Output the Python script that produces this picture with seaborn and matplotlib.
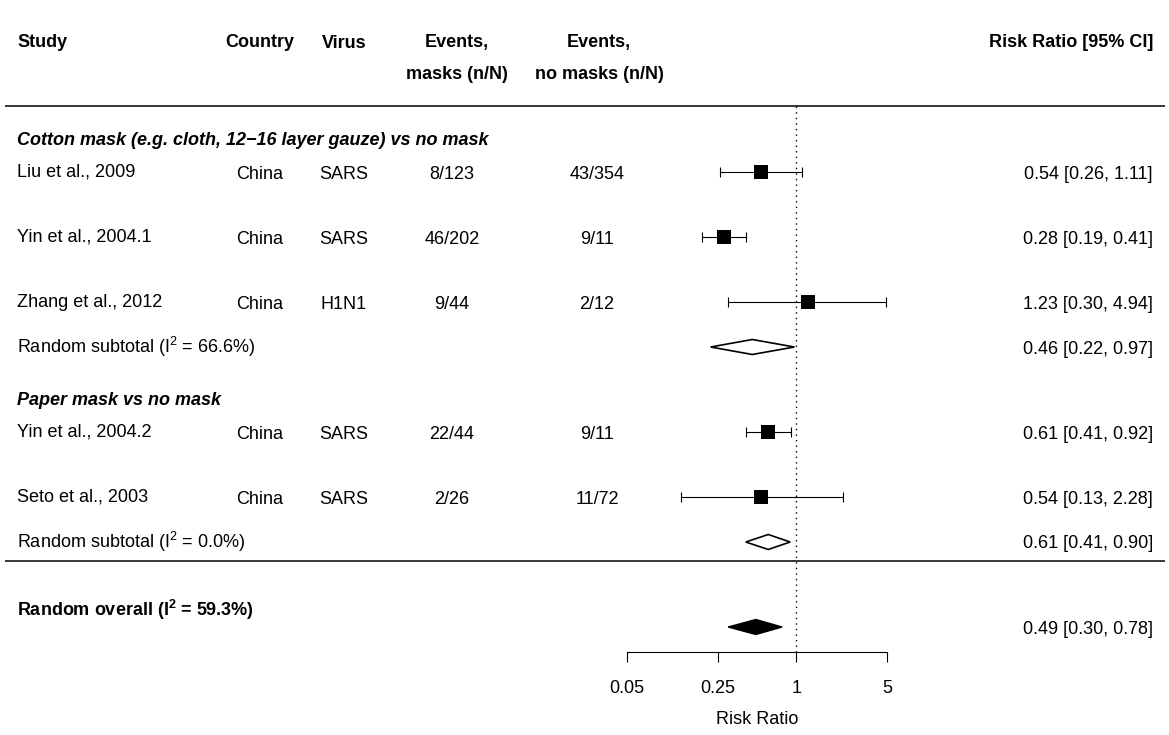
import matplotlib
matplotlib.use("Agg")
import matplotlib.pyplot as plt
import numpy as np
import pandas as pd
import seaborn as sns

# Study level data
studies = ["Liu et al., 2009", "Yin et al., 2004.1", "Zhang et al., 2012",
           "Yin et al., 2004.2", "Seto et al., 2003"]
countries = ["China", "China", "China", "China", "China"]
viruses = ["SARS", "SARS", "H1N1", "SARS", "SARS"]
events_masks = ["8/123", "46/202", "9/44", "22/44", "2/26"]
events_no_masks = ["43/354", "9/11", "2/12", "9/11", "11/72"]
rr = [0.54, 0.28, 1.23, 0.61, 0.54]
ci_low = [0.26, 0.19, 0.30, 0.41, 0.13]
ci_high = [1.11, 0.41, 4.94, 0.92, 2.28]

# Subgroup and overall summaries
group_titles = ["Cotton mask (e.g. cloth, 12\u221216 layer gauze) vs no mask",
                "Paper mask vs no mask"]
subtotal_labels = ["Random subtotal (I$^{2}$ = 66.6%)", "Random subtotal (I$^{2}$ = 0.0%)"]
subtotal_rr = [0.46, 0.61]
subtotal_low = [0.22, 0.41]
subtotal_high = [0.97, 0.90]
overall_label = "Random overall (I$\\mathbf{^{2}}$ = 59.3%)"
overall_rr = 0.49
overall_low = 0.30
overall_high = 0.78

tick_values = [0.05, 0.25, 1, 5]
tick_labels = ["0.05", "0.25", "1", "5"]

# Layout (pixel rows of the figure)
W, H = 1169, 735
study_y = [172, 237, 302, 432, 497]
group_y = [138, 398]
subtotal_y = [347, 542]
overall_y = 627
top_line, mid_line, axis_y = 106, 561, 652
x0_px, x1_px = 627, 887

sns.set_theme(style="white")
plt.rcParams["font.family"] = ["Liberation Sans", "DejaVu Sans"]
plt.rcParams["mathtext.fontset"] = "custom"
plt.rcParams["mathtext.rm"] = "Liberation Sans"
plt.rcParams["mathtext.it"] = "Liberation Sans:italic"
plt.rcParams["mathtext.bf"] = "Liberation Sans:bold"
FS = 13

fig = plt.figure(figsize=(W / 100, H / 100), dpi=100)
tax = fig.add_axes([0, 0, 1, 1])
tax.set_xlim(0, W)
tax.set_ylim(H, 0)
tax.axis("off")


def txt(x, y, s, ha="left", **kw):
    # y is the visual centre of the capitals
    tax.text(x, y + 6.5, s, ha=ha, va="baseline", fontsize=FS, color="black", **kw)


# header
txt(17, 40, "Study", weight="bold")
txt(260, 40, "Country", ha="center", weight="bold")
txt(344, 41, "Virus", ha="center", weight="bold")
txt(457, 40, "Events,", ha="center", weight="bold")
txt(457, 72, "masks (n/N)", ha="center", weight="bold")
txt(599, 40, "Events,", ha="center", weight="bold")
txt(599, 72, "no masks (n/N)", ha="center", weight="bold")
txt(1153, 40, "Risk Ratio [95% CI]", ha="right", weight="bold")

tax.hlines([top_line, mid_line], 5, 1165, color="black", lw=1.1)

for gy, title in zip(group_y, group_titles):
    txt(17, gy, title, weight="bold", style="italic")

for i, y in enumerate(study_y):
    txt(17, y - 2, studies[i])
    txt(260, y, countries[i], ha="center")
    txt(344, y, viruses[i], ha="center")
    txt(452, y, events_masks[i], ha="center")
    txt(597, y, events_no_masks[i], ha="center")
    txt(1153, y, f"{rr[i]:.2f} [{ci_low[i]:.2f}, {ci_high[i]:.2f}]", ha="right")

for i, y in enumerate(subtotal_y):
    txt(17, y - 1, subtotal_labels[i])
    txt(1153, y, f"{subtotal_rr[i]:.2f} [{subtotal_low[i]:.2f}, {subtotal_high[i]:.2f}]", ha="right")

txt(17, overall_y - 17, overall_label, weight="bold")
txt(1153, overall_y, f"{overall_rr:.2f} [{overall_low:.2f}, {overall_high:.2f}]", ha="right")

# forest panel
fax = fig.add_axes([x0_px / W, (H - axis_y) / H, (x1_px - x0_px) / W, (axis_y - top_line) / H])
fax.patch.set_alpha(0)
fax.set_xscale("log")
fax.set_xlim(tick_values[0], tick_values[-1])
fax.set_ylim(axis_y, top_line)

df = pd.DataFrame({"rr": rr, "low": ci_low, "high": ci_high, "y": study_y})
fax.errorbar(df["rr"], df["y"], xerr=[df["rr"] - df["low"], df["high"] - df["rr"]],
             fmt="none", ecolor="black", elinewidth=0.8, capsize=3.6, capthick=0.8, zorder=2)
sns.scatterplot(data=df, x="rr", y="y", marker="s", s=115, color="black",
                linewidth=0, legend=False, ax=fax, zorder=3)

half = 7.5
for est, lo, hi, y in zip(subtotal_rr, subtotal_low, subtotal_high, subtotal_y):
    fax.fill([lo, est, hi, est], [y, y - half, y, y + half],
             facecolor="white", edgecolor="black", lw=1.2, zorder=3)
fax.fill([overall_low, overall_rr, overall_high, overall_rr],
         [overall_y, overall_y - half, overall_y, overall_y + half],
         facecolor="black", edgecolor="black", lw=1.0, zorder=3)

fax.axvline(1, color="black", ls=(0, (1, 3)), lw=1.0, zorder=1)

for side in ["top", "right", "left"]:
    fax.spines[side].set_visible(False)
fax.spines["bottom"].set_color("black")
fax.spines["bottom"].set_linewidth(0.8)
fax.set_yticks([])
fax.set_xticks(tick_values)
fax.set_xticklabels(tick_labels)
fax.minorticks_off()
fax.tick_params(axis="x", bottom=True, length=7.2, width=0.8, color="black",
                labelsize=FS, pad=13, labelcolor="black")
fax.set_xlabel("Risk Ratio", fontsize=FS, color="black", labelpad=10)
fax.set_ylabel("")

fig.savefig("out.png", dpi=100)
